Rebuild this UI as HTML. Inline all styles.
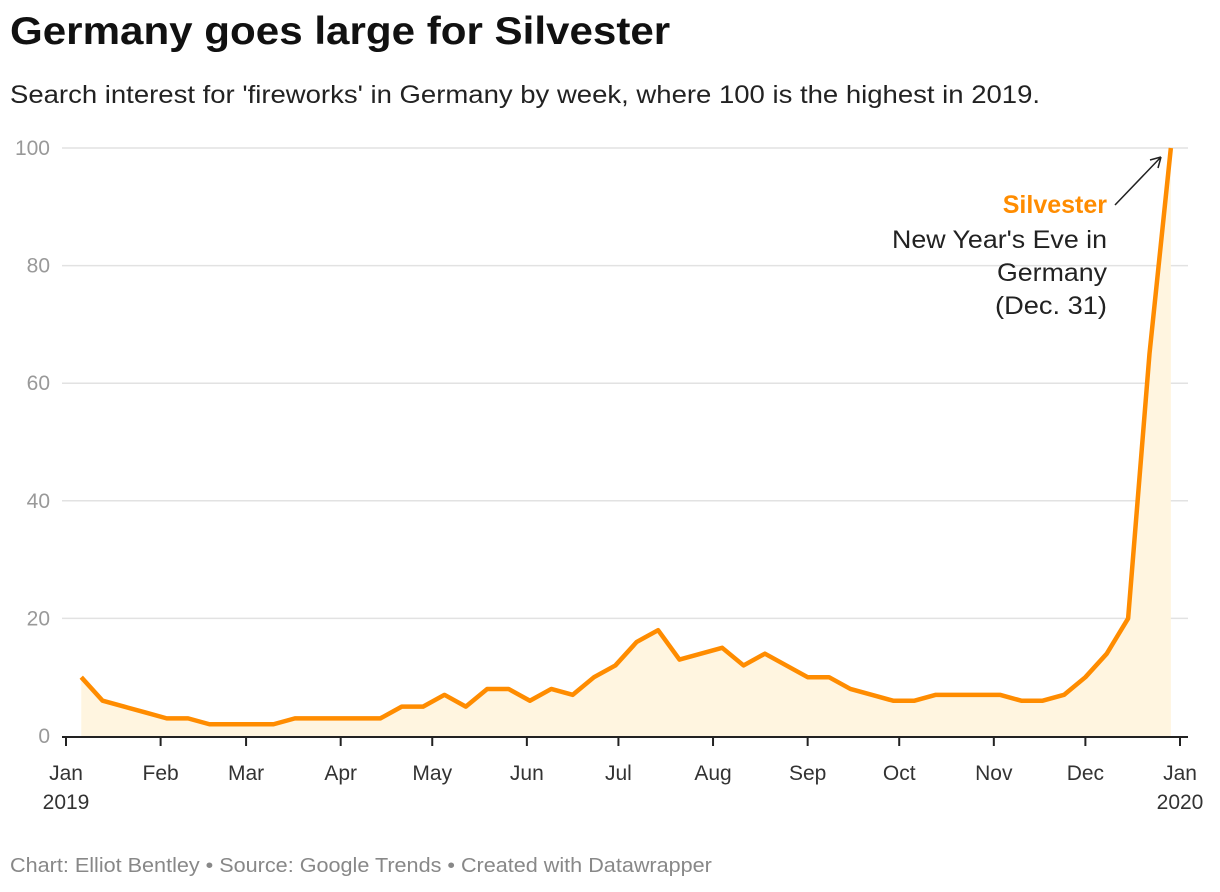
<!DOCTYPE html>
<html><head><meta charset="utf-8"><style>
body{margin:0;background:#fff;font-family:"Liberation Sans",Arial,sans-serif;}
#wrap{position:relative;width:1220px;height:892px;overflow:hidden}
h1{position:absolute;left:10px;top:10px;margin:0;font-size:39px;font-weight:bold;color:#111;transform-origin:0 0;transform:scaleX(1.08);white-space:nowrap}
.sub{position:absolute;left:10px;top:81px;font-size:25px;color:#222;transform-origin:0 0;transform:scaleX(1.1);white-space:nowrap}
.foot{position:absolute;left:10px;top:855px;font-size:20px;color:#888;transform-origin:0 0;transform:scaleX(1.08);white-space:nowrap}
svg{position:absolute;left:0;top:0}
</style></head><body>
<div id="wrap">
<h1>Germany goes large for Silvester</h1>
<div class="sub">Search interest for 'fireworks' in Germany by week, where 100 is the highest in 2019.</div>
<svg id="c" width="1220" height="892"></svg>
<div class="foot">Chart: Elliot Bentley • Source: Google Trends • Created with Datawrapper</div>
</div>
<script>
const values=[10,6,5,4,3,3,2,2,2,2,3,3,3,3,3,5,5,7,5,8,8,6,8,7,10,12,16,18,13,14,15,12,14,12,10,10,8,7,6,6,7,7,7,7,6,6,7,10,14,20,65,100];
const yTicks=[0,20,40,60,80,100];
const monthLabels=["Jan","Feb","Mar","Apr","May","Jun","Jul","Aug","Sep","Oct","Nov","Dec","Jan"];
const yearLabels={0:"2019",12:"2020"};
const NS="http://www.w3.org/2000/svg";
const svg=document.getElementById('c');
const t0=Date.UTC(2019,0,1),t1=Date.UTC(2020,0,1);
const xS=t=>66+(t-t0)/(t1-t0)*1114;
const yS=v=>736-v*5.88;
function el(tag,attrs,txt){const e=document.createElementNS(NS,tag);for(const k in attrs)e.setAttribute(k,attrs[k]);if(txt!==undefined)e.textContent=txt;svg.appendChild(e);return e;}
yTicks.forEach(v=>{
  if(v>0){const g=el('line',{x1:62,x2:1188,y1:yS(v),y2:yS(v),stroke:'#e2e2e2','stroke-width':1.5});
  
  }
  const t=el('text',{x:50,y:yS(v)+7,'text-anchor':'end','font-size':21,fill:'#999'},v);
  
  
});
const xs=values.map((v,i)=>xS(Date.UTC(2019,0,6+7*i)));
let d='M'+xs[0]+','+yS(0);
values.forEach((v,i)=>d+='L'+xs[i]+','+yS(v));
d+='L'+xs[xs.length-1]+','+yS(0)+'Z';
const area=el('path',{d:d,fill:'#fff5e0'});


const ax=el('line',{x1:62,x2:1188,y1:737,y2:737,stroke:'#222','stroke-width':2});


const line=el('polyline',{points:values.map((v,i)=>xs[i]+','+yS(v)).join(' '),fill:'none',stroke:'#ff8c00','stroke-width':4.5,'stroke-linejoin':'round'});


monthLabels.forEach((m,i)=>{
  const x=xS(Date.UTC(2019,i,1));
  const tk=el('line',{x1:x,x2:x,y1:737,y2:746,stroke:'#222','stroke-width':2});
  
  
  const t=el('text',{x:x,y:780,'text-anchor':'middle','font-size':21,fill:'#333'},m);
  
  
  if(yearLabels[i]){const y=el('text',{x:x,y:809,'text-anchor':'middle','font-size':21,fill:'#333'},yearLabels[i]);
  
  }
});
const a1=el('text',{x:1107,y:213,'text-anchor':'end','font-size':25,'font-weight':'bold',fill:'#ff8c00'},'Silvester');


["New Year's Eve in","Germany","(Dec. 31)"].forEach((s,i)=>{
  const t=el('text',{x:1107,y:248+i*33,'text-anchor':'end','font-size':25,fill:'#222',textLength:[215,110,112][i],lengthAdjust:'spacingAndGlyphs'},s);
  
  
});
const arr=el('path',{d:'M1115,205 L1161,157 M1161,157 L1150,160 M1161,157 L1158,168',stroke:'#222','stroke-width':1.5,fill:'none'});


</script>
</body></html>
